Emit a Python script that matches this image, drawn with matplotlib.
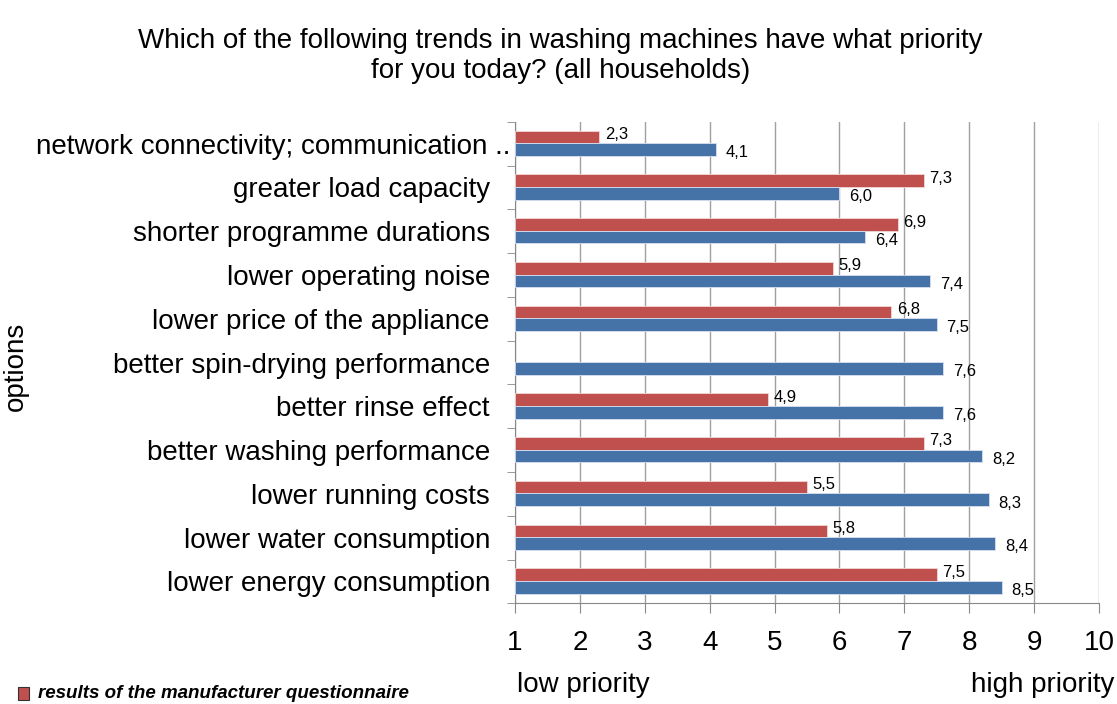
import numpy as np
import matplotlib.pyplot as plt
import matplotlib.transforms as mtrans
from matplotlib.patches import Rectangle

plt.rcParams['font.family'] = ['Liberation Sans', 'DejaVu Sans']

# categories listed bottom to top
kategori = [
    "lower energy consumption",
    "lower water consumption",
    "lower running costs",
    "better washing performance",
    "better rinse effect",
    "better spin-drying performance",
    "lower price of the appliance",
    "lower operating noise",
    "shorter programme durations",
    "greater load capacity",
    "network connectivity; communication ..",
]
hersteller = [7.5, 5.8, 5.5, 7.3, 4.9, np.nan, 6.8, 5.9, 6.9, 7.3, 2.3]
haushalte = [8.5, 8.4, 8.3, 8.2, 7.6, 7.6, 7.5, 7.4, 6.4, 6.0, 4.1]
x_ticks = [1, 2, 3, 4, 5, 6, 7, 8, 9, 10]

MERAH = "#C0504D"
BIRU = "#4572A7"

fig = plt.figure(figsize=(11.17, 7.04), dpi=100)
ax = fig.add_axes([0.461, 0.143, 0.523, 0.684])

y = np.arange(len(kategori))
h = 0.29
basis = 1

# Plot
merah = np.array(hersteller)
ok = ~np.isnan(merah)
ax.barh(y[ok] + h / 2 + 0.01, merah[ok] - basis, left=basis, height=h,
        color=MERAH, edgecolor="#f0d8d8", linewidth=0.6, zorder=3)
ax.barh(y - h / 2 + 0.01, np.array(haushalte) - basis, left=basis, height=h,
        color=BIRU, edgecolor="#d8e0f0", linewidth=0.6, zorder=3)

for yi, v in zip(y, hersteller):
    if np.isnan(v):
        continue
    ax.annotate(f"{v:.1f}".replace(".", ","), (v, yi + h / 2), xytext=(4, 2),
                textcoords="offset points", fontsize=12, va="center", ha="left")
for yi, v in zip(y, haushalte):
    ax.annotate(f"{v:.1f}".replace(".", ","), (v, yi - h / 2), xytext=(7, -2),
                textcoords="offset points", fontsize=12, va="center", ha="left")

ax.set_xlim(1, 10)
ax.set_ylim(-0.5, len(kategori) - 0.5)
ax.set_xticks(x_ticks)
ax.set_xticklabels([str(t) for t in x_ticks], fontsize=20)
ax.set_yticks(y)
ax.set_yticklabels(kategori, fontsize=20)
ax.set_yticks(np.arange(len(kategori) + 1) - 0.5, minor=True)
ax.tick_params(axis="y", which="major", length=0, pad=18)
ax.tick_params(axis="y", which="minor", length=6, color="#888888", direction="out")
ax.tick_params(axis="x", length=7, color="#888888", pad=12)
ax.xaxis.grid(True, color="#a0a0a0", linewidth=1.0, zorder=0)
ax.set_axisbelow(True)
for s in ["top", "right"]:
    ax.spines[s].set_visible(False)
for s in ["left", "bottom"]:
    ax.spines[s].set_color("#888888")

# long label runs closer to the axis
lbl = ax.get_yticklabels()[-1]
lbl.set_transform(lbl.get_transform() + mtrans.ScaledTranslation(0.2, 0, fig.dpi_scale_trans))

fig.text(0.014, 0.479, "options", fontsize=20, rotation=90, ha="center", va="center")

fig.text(0.502, 0.92, "Which of the following trends in washing machines have what priority\nfor you today? (all households)",
         ha="center", va="center", fontsize=20, linespacing=1.2)

fig.text(0.463, 0.027, "low priority", fontsize=20, ha="left", va="center")
fig.text(0.998, 0.027, "high priority", fontsize=20, ha="right", va="center")

fig.patches.append(Rectangle((0.016, 0.006), 0.010, 0.018, transform=fig.transFigure,
                             facecolor=MERAH, edgecolor="#333333", linewidth=0.8))
fig.text(0.034, 0.015, "results of the manufacturer questionnaire", fontsize=13.5,
         fontweight="bold", fontstyle="italic", ha="left", va="center")

plt.savefig("out.png", dpi=100)
plt.close()
